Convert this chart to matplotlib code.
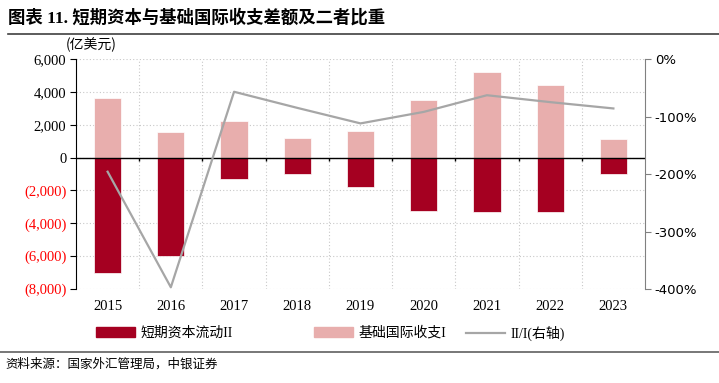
import matplotlib.pyplot as plt
from matplotlib.patches import Patch
from matplotlib.lines import Line2D
from matplotlib.ticker import FuncFormatter
import numpy as np

plt.rcParams['font.family'] = ['Liberation Serif', 'Noto Sans CJK SC', 'DejaVu Sans']

years = ['2015', '2016', '2017', '2018', '2019', '2020', '2021', '2022', '2023']
basic_bop = [3620, 1560, 2220, 1190, 1590, 3510, 5210, 4420, 1130]       # 基础国际收支I
short_cap = [-7020, -5990, -1300, -1000, -1790, -3250, -3340, -3320, -1000]  # 短期资本流动II
ratio = [-196, -397, -57, -85, -112, -92, -63, -75, -86]               # II/I (%)

c_dark = '#A50021'
c_pink = '#E8AEAD'
c_line = '#A6A6A6'
cjk = ['Noto Sans CJK SC', 'DejaVu Sans']

fig = plt.figure(figsize=(7.19, 3.83), dpi=100)
ax = fig.add_axes([76/719, 1-289/383, (645-76)/719, 230/383])

x = np.arange(len(years))
w = 0.43
ax.bar(x, basic_bop, w, color=c_pink, edgecolor='white', linewidth=0.5, zorder=3)
ax.bar(x, short_cap, w, color=c_dark, edgecolor='white', linewidth=0.5, zorder=3)

ax.set_xlim(-0.5, len(years) - 0.5)
ax.set_ylim(-8000, 6000)
ax.set_yticks(np.arange(-8000, 6001, 2000))

def fmt(v, pos):
    return '({:,.0f})'.format(-v) if v < 0 else '{:,.0f}'.format(v)
ax.yaxis.set_major_formatter(FuncFormatter(fmt))
for lab, v in zip(ax.get_yticklabels(), ax.get_yticks()):
    lab.set_color('#FF0000' if v < 0 else 'black')
ax.tick_params(axis='y', labelsize=10.5, length=4, direction='out', pad=3)

ax.set_xticks(x)
ax.set_xticklabels(years, fontsize=10.5)
ax.tick_params(axis='x', length=0, pad=8)

# grid
bounds = np.arange(-0.5, len(years), 1.0)
for yv in ax.get_yticks():
    ax.axhline(yv, color='#C8C8C8', linestyle=(0, (1, 2)), linewidth=0.8, zorder=0)
for b in bounds[1:-1]:
    ax.axvline(b, color='#C8C8C8', linestyle=(0, (1, 2)), linewidth=0.8, zorder=0)
ax.axhline(0, color='black', linewidth=1.0, zorder=4)
ax.vlines(bounds[1:-1], -220, 0, color='black', linewidth=1.0, zorder=4)

for s in ['top', 'bottom', 'right']:
    ax.spines[s].set_visible(False)
ax.spines['left'].set_color('black')

ax2 = ax.twinx()
ax2.plot(x, ratio, color=c_line, linewidth=1.6, zorder=5)
ax2.set_ylim(-400, 0)
ax2.set_yticks(np.arange(-400, 1, 100))
ax2.yaxis.set_major_formatter(FuncFormatter(lambda v, p: '{:.0f}%'.format(v)))
for lab in ax2.get_yticklabels():
    lab.set_family('DejaVu Sans')
ax2.tick_params(axis='y', labelsize=9.5, length=4, color='#808080', pad=3)
for s in ['top', 'bottom', 'left']:
    ax2.spines[s].set_visible(False)
ax2.spines['right'].set_color('#808080')

# texts
fig.text(8/719, 1-18/383, '图表 11. 短期资本与基础国际收支差额及二者比重', fontsize=12.5,
         fontweight='bold', va='center', ha='left')
fig.add_artist(Line2D([8/719, 1], [1-34/383, 1-34/383], color='#404040', linewidth=1.2))
fig.text(66/719, 1-45/383, '(亿美元)', fontsize=10, va='center', ha='left', family=cjk)

h1 = Patch(color=c_dark)
h2 = Patch(color=c_pink)
h3 = Line2D([], [], color=c_line, linewidth=1.6)
for h, t, xp in [(h1, '短期资本流动II', 96), (h2, '基础国际收支I', 314), (h3, 'II/I(右轴)', 466)]:
    fig.legend([h], [t], loc='center left', bbox_to_anchor=(xp/719, 1-333/383), frameon=False,
               fontsize=10, handlelength=2.8, handleheight=0.7, handletextpad=0.4,
               borderpad=0, borderaxespad=0)

fig.add_artist(Line2D([0, 1], [1-352/383, 1-352/383], color='#606060', linewidth=1.2))
fig.text(5/719, 1-364/383, '资料来源：国家外汇管理局，中银证券', fontsize=9, style='italic',
         va='center', ha='left', family=cjk)

fig.savefig('out.png', dpi=100)
